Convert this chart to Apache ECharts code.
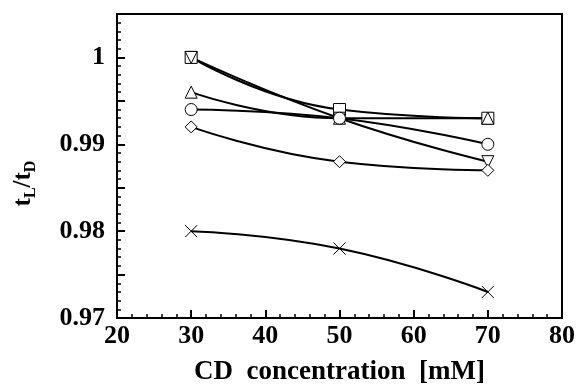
<!DOCTYPE html>
<html>
<head>
<meta charset="utf-8">
<script src="https://cdn.jsdelivr.net/npm/echarts@6/dist/echarts.min.js"></script>
<style>
  html, body { margin: 0; padding: 0; background: #fff; }
  #chart { width: 577px; height: 386px; }
</style>
</head>
<body>
<div id="chart"></div>
<script>
const concentrations = [30, 50, 70];
const squareVals = [1.000, 0.994, 0.993];
const downTriVals = [1.000, 0.993, 0.988];
const upTriVals = [0.996, 0.993, 0.993];
const circleVals = [0.994, 0.993, 0.990];
const diamondVals = [0.992, 0.988, 0.987];
const crossVals = [0.980, 0.978, 0.973];

const FONT = '"Liberation Serif", "DejaVu Serif", serif';

const pair = vals => concentrations.map((c, i) => [c, vals[i]]);

// 共用的折线样式
const mkSeries = (vals, symbol, extra) => Object.assign({
  type: 'line',
  data: pair(vals),
  smooth: true,
  symbol: symbol,
  symbolSize: 12,
  showAllSymbol: true,
  lineStyle: { color: '#000', width: 2 },
  itemStyle: { color: '#fff', borderColor: '#000', borderWidth: 1 },
  emphasis: { disabled: true },
  z: 2
}, extra || {});

const chart = echarts.init(document.getElementById('chart'), null, { renderer: 'canvas' });

chart.setOption({
  animation: false,
  backgroundColor: '#fff',
  grid: {
    left: 117, right: 15, top: 14, bottom: 68,
    outerBoundsMode: 'none',
    containLabel: false,
    show: true, borderColor: '#000', borderWidth: 2, backgroundColor: 'transparent'
  },
  xAxis: {
    type: 'value',
    min: 20, max: 80, interval: 10,
    name: 'CD  concentration  [mM]',
    nameLocation: 'middle',
    nameGap: 41,
    nameTextStyle: { fontFamily: FONT, fontWeight: 'bold', fontSize: 27, color: '#000' },
    axisLine: { show: true, lineStyle: { color: '#000', width: 2 } },
    axisTick: { show: true, inside: true, length: 8, lineStyle: { color: '#000', width: 2 } },
    minorTick: { show: true, splitNumber: 5, length: 4, lineStyle: { color: '#000', width: 1.5 } },
    axisLabel: { fontFamily: FONT, fontWeight: 'bold', fontSize: 26, color: '#000', margin: 5 },
    splitLine: { show: false }
  },
  yAxis: {
    type: 'value',
    min: 0.97, max: 1.005, interval: 0.005,
    name: '{t|t}{s|L}{t|/t}{s|D}',
    nameLocation: 'middle',
    nameGap: 78,
    nameTextStyle: {
      padding: [0, 35, 0, 0],
      rich: {
        t: { fontFamily: FONT, fontWeight: 'bold', fontSize: 25, color: '#000' },
        s: { fontFamily: FONT, fontWeight: 'bold', fontSize: 16, color: '#000', padding: [14, 0, 0, 0] }
      }
    },
    axisLine: { show: true, lineStyle: { color: '#000', width: 2 } },
    axisTick: { show: true, inside: true, length: 8, lineStyle: { color: '#000', width: 2 } },
    minorTick: { show: true, splitNumber: 5, length: 4, lineStyle: { color: '#000', width: 1.5 } },
    axisLabel: {
      fontFamily: FONT, fontWeight: 'bold', fontSize: 26, color: '#000', margin: 12,
      formatter: v => {
        const h = v * 100;
        return Math.abs(h - Math.round(h)) < 1e-6 ? String(Math.round(h) / 100) : '';
      }
    },
    splitLine: { show: false }
  },
  series: [
    mkSeries(squareVals, 'rect'),
    mkSeries(downTriVals, 'triangle', { symbolRotate: 180 }),
    mkSeries(upTriVals, 'triangle'),
    mkSeries(circleVals, 'circle'),
    mkSeries(diamondVals, 'diamond'),
    mkSeries(crossVals, 'path://M0,0L10,10M10,0L0,10', {
      itemStyle: { color: 'none', borderColor: '#000', borderWidth: 1 }
    })
  ]
});
</script>
</body>
</html>
